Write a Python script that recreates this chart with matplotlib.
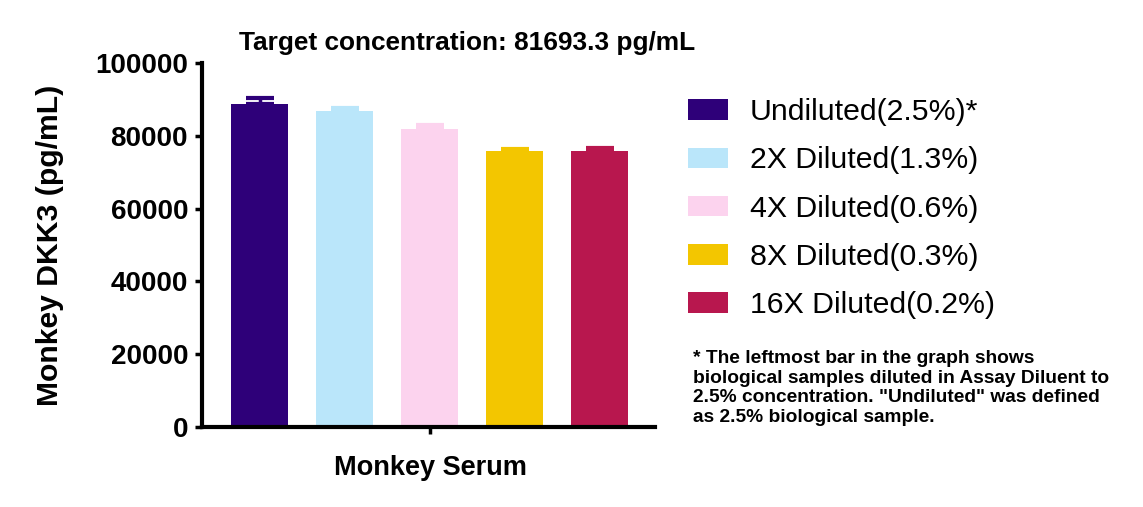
import numpy as np
import matplotlib
matplotlib.use("Agg")
import matplotlib.pyplot as plt
from matplotlib.patches import Patch

plt.rcParams["font.family"] = ["Liberation Sans", "DejaVu Sans"]

# --- Data ---
labels = ["Undiluted(2.5%)*", "2X Diluted(1.3%)", "4X Diluted(0.6%)",
          "8X Diluted(0.3%)", "16X Diluted(0.2%)"]
values = [88700, 86700, 82000, 75900, 75700]
errors = [1600, 900, 900, 400, 900]
colors = ["#2E0079", "#BAE6FA", "#FCD3EE", "#F3C600", "#B8174E"]
yticks = [0, 20000, 40000, 60000, 80000, 100000]

fig = plt.figure(figsize=(11.43, 5.07), dpi=100)
W, H = 1143, 507
ax = fig.add_axes([202 / W, 1 - 427 / H, (655 - 202) / W, (427 - 63) / H])

pos = np.arange(len(values)) - 2
for x, v, e, c in zip(pos, values, errors, colors):
    ax.bar(x, v, width=0.67, color=c, zorder=2)
    ax.errorbar(x, v, yerr=[[0], [e]], fmt="none", ecolor=c,
                elinewidth=2.5, capsize=10, capthick=3, zorder=3)

ax.set_xlim(-2.68, 2.65)
ax.set_ylim(0, 100000)
ax.set_yticks(yticks)
ax.set_yticklabels([str(t) for t in yticks], fontsize=20, fontweight="bold")
ax.set_xticks([0])
ax.set_xticklabels([""])
ax.tick_params(axis="both", direction="out", length=5, width=2.5, pad=5)
for s in ["top", "right"]:
    ax.spines[s].set_visible(False)
for s in ["left", "bottom"]:
    ax.spines[s].set_linewidth(3)

ax.set_ylabel("Monkey DKK3 (pg/mL)", fontsize=21.7, fontweight="bold")
ax.yaxis.set_label_coords((64 - 202) / 453, 0.5)
fig.text(430 / W, 1 - 468 / H, "Monkey Serum", fontsize=19.5, fontweight="bold",
         ha="center", va="center")
fig.text(467 / W, 1 - 43 / H, "Target concentration: 81693.3 pg/mL",
         fontsize=18.9, fontweight="bold", ha="center", va="center")

handles = [Patch(facecolor=c, edgecolor="none") for c in colors]
fig.legend(handles, labels, loc="upper left", bbox_to_anchor=(676 / W, 1 - 86 / H),
           frameon=False, fontsize=21.8, handlelength=1.32, handleheight=0.66,
           handletextpad=0.72, labelspacing=0.67, borderaxespad=0)

note = ("* The leftmost bar in the graph shows\n"
        "biological samples diluted in Assay Diluent to\n"
        "2.5% concentration. \"Undiluted\" was defined\n"
        "as 2.5% biological sample.")
fig.text(693 / W, 1 - 350 / H, note, fontsize=13.8, fontweight="bold",
         ha="left", va="top", linespacing=1.2)

fig.savefig("out.png", dpi=100, facecolor="white")
